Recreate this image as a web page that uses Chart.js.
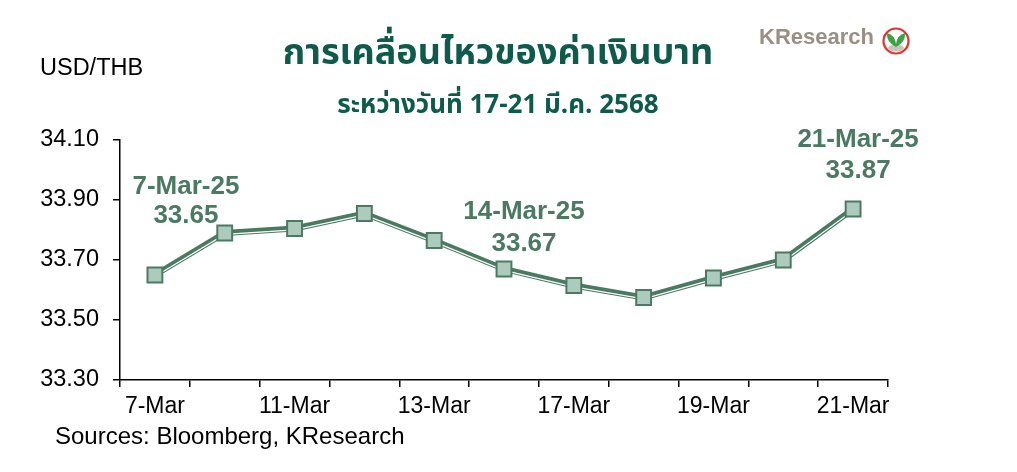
<!DOCTYPE html>
<html>
<head>
<meta charset="utf-8">
<script src="https://cdn.jsdelivr.net/npm/chart.js@4.4.1/dist/chart.umd.min.js"></script>
<style>
  html, body { margin: 0; padding: 0; background: #fff; }
  #chart { display: block; }
</style>
</head>
<body>
<canvas id="chart" width="1017" height="472"></canvas>
<script>
// data
const dates = ['7-Mar', '10-Mar', '11-Mar', '12-Mar', '13-Mar', '14-Mar', '17-Mar', '18-Mar', '19-Mar', '20-Mar', '21-Mar'];
const usdThb = [33.65, 33.79, 33.805, 33.855, 33.765, 33.67, 33.615, 33.575, 33.64, 33.70, 33.87];
const yTicks = [33.30, 33.50, 33.70, 33.90, 34.10];
const calloutIndex = [0, 5, 10];
const calloutText = ['7-Mar-25', '14-Mar-25', '21-Mar-25'];

const titleText = 'การเคลื่อนไหวของค่าเงินบาท';
const subtitleText = 'ระหว่างวันที่ 17-21 มี.ค. 2568';
const unitText = 'USD/THB';
const sourceText = 'Sources: Bloomberg, KResearch';

const GREEN = '#4b7a63';
const TEAL = '#0e5a4b';
const LATIN = '"Liberation Sans", Arial, sans-serif';
const THAI = '"Noto Sans Thai", "Noto Sans Thai Looped", Loma, Garuda, "Noto Sans", sans-serif';

// where each callout sits relative to its point: [dx, dy line1, dy line2]
const calloutOffset = [[31, -88, -59], [20, -57, -25], [5, -69, -38]];

const shiftLine = {
  id: 'shiftLine',
  beforeDatasetDraw(chart, args) {
    if (args.index === 1) {
      chart.ctx.save();
      chart.ctx.translate(0, 1.4);
    }
  },
  afterDatasetDraw(chart, args) {
    if (args.index === 1) chart.ctx.restore();
  }
};

const decorations = {
  id: 'decorations',
  afterDraw(chart) {
    const ctx = chart.ctx;
    ctx.save();

    // titles
    ctx.textAlign = 'center';
    ctx.textBaseline = 'alphabetic';
    ctx.fillStyle = TEAL;
    ctx.font = 'bold 36px ' + THAI;
    ctx.fillText(titleText, 498, 64);
    ctx.font = 'bold 26px ' + THAI;
    ctx.fillText(subtitleText, 498, 113);

    // unit label and source
    ctx.textAlign = 'left';
    ctx.fillStyle = '#000';
    ctx.font = '23.5px ' + LATIN;
    ctx.fillText(unitText, 40, 75);
    ctx.font = '24px ' + LATIN;
    ctx.fillText(sourceText, 55, 444);

    // logo
    ctx.fillStyle = '#9a8f82';
    ctx.font = 'bold 22px ' + LATIN;
    ctx.fillText('KResearch', 759, 44);
    ctx.beginPath();
    ctx.arc(896, 41, 12.5, 0, Math.PI * 2);
    ctx.fillStyle = '#fff';
    ctx.fill();
    ctx.lineWidth = 2.2;
    ctx.strokeStyle = '#e2332a';
    ctx.stroke();
    ctx.fillStyle = '#c9c3bb';
    ctx.beginPath();
    ctx.ellipse(896, 48, 8, 3.5, 0, 0, Math.PI * 2);
    ctx.fill();
    ctx.fillStyle = '#3aa346';
    ctx.beginPath();
    ctx.moveTo(896, 47);
    ctx.quadraticCurveTo(886, 42, 887, 33);
    ctx.quadraticCurveTo(895, 35, 896, 44);
    ctx.fill();
    ctx.beginPath();
    ctx.moveTo(896, 47);
    ctx.quadraticCurveTo(906, 42, 905, 33);
    ctx.quadraticCurveTo(897, 35, 896, 44);
    ctx.fill();

    // callouts anchored to their points
    const meta = chart.getDatasetMeta(2);
    ctx.textAlign = 'center';
    ctx.textBaseline = 'middle';
    ctx.fillStyle = GREEN;
    ctx.font = 'bold 26px ' + LATIN;
    calloutIndex.forEach((idx, i) => {
      const pt = meta.data[idx];
      const off = calloutOffset[i];
      ctx.fillText(calloutText[i], pt.x + off[0], pt.y + off[1]);
      ctx.fillText(usdThb[idx].toFixed(2), pt.x + off[0], pt.y + off[2]);
    });

    ctx.restore();
  }
};

new Chart(document.getElementById('chart'), {
  type: 'line',
  data: {
    labels: dates,
    datasets: [
      {
        data: usdThb,
        borderColor: GREEN,
        borderWidth: 6,
        pointRadius: 0,
        tension: 0,
        order: 2
      },
      {
        data: usdThb,
        borderColor: '#ffffff',
        borderWidth: 1.2,
        pointRadius: 0,
        tension: 0,
        order: 1
      },
      {
        data: usdThb,
        showLine: false,
        pointStyle: 'rect',
        pointRadius: 10.5,
        pointBorderWidth: 2,
        pointBorderColor: GREEN,
        pointBackgroundColor: '#adcbbc',
        order: 0
      }
    ]
  },
  options: {
    responsive: false,
    animation: false,
    devicePixelRatio: 1,
    layout: { padding: { top: 140, right: 129, left: 0, bottom: 0 } },
    plugins: {
      legend: { display: false },
      tooltip: { enabled: false }
    },
    scales: {
      x: {
        offset: true,
        grid: { offset: true, drawOnChartArea: false, drawTicks: true, tickLength: 7, color: '#000', lineWidth: 1.5 },
        border: { color: '#000', width: 1.5 },
        ticks: {
          autoSkip: false,
          maxRotation: 0,
          color: '#000',
          padding: 6,
          font: { family: LATIN, size: 23 },
          callback: function (v, i) { return i % 2 === 0 ? this.getLabelForValue(v) : ''; }
        },
        afterFit: (scale) => { scale.height = 92; }
      },
      y: {
        min: yTicks[0],
        max: yTicks[yTicks.length - 1],
        afterBuildTicks: (scale) => { scale.ticks = yTicks.map(v => ({ value: v })); },
        grid: { drawOnChartArea: false, drawTicks: true, tickLength: 7, color: '#000', lineWidth: 1.5 },
        border: { color: '#000', width: 1.5 },
        ticks: {
          color: '#000',
          padding: 14,
          font: { family: LATIN, size: 23.5 },
          callback: (v) => Number(v).toFixed(2)
        },
        afterFit: (scale) => { scale.width = 120; }
      }
    }
  },
  plugins: [shiftLine, decorations]
});
</script>
</body>
</html>
